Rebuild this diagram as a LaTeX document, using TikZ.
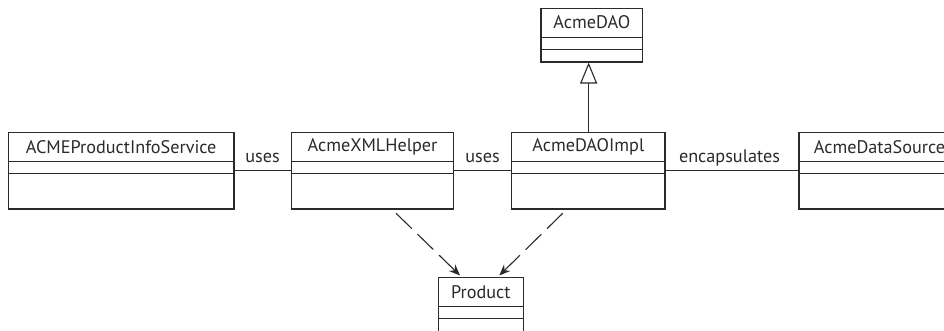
\documentclass[tikz,border=0pt]{standalone}
\usepackage{fontspec}
\setmainfont{PT Sans}
\usetikzlibrary{fit,calc,arrows.meta}
\definecolor{ink}{HTML}{2A2A2A}
\tikzset{
  clsbox/.style={draw=ink, line width=1.1pt, inner sep=0pt, rectangle},
  clsname/.style={text=ink, font=\fontsize{18.2}{21}\selectfont, inner sep=0pt},
  clsline/.style={draw=ink, line width=1.1pt},
  assoc/.style={draw=ink, line width=1.1pt},
  asslabel/.style={text=ink, font=\fontsize{18.2}{21}\selectfont, inner sep=0pt, anchor=base},
  inherit/.style={draw=ink, line width=1.1pt, -{Triangle[open, width=17pt, length=21pt, line width=1.1pt]}},
  depend/.style={draw=ink, line width=1.1pt, dash pattern=on 22pt off 8pt, -{Stealth[length=11pt, width=9pt]}},
}
\newcommand\umlclassbox[6]{%
  \node[clsbox, fit={(#2,#3)(#4,#5)}] (#1) {};
  \node[clsname] (#1-name) at ($(#1.north)+(0,14.6)$) {#6};
  \draw[clsline] ($(#1.north west)+(0,29.3)$) -- ($(#1.north east)+(0,29.3)$);
  \draw[clsline] ($(#1.north west)+(0,41.3)$) -- ($(#1.north east)+(0,41.3)$);
}
\begin{document}
\begin{tikzpicture}[x=1pt,y=-1pt]
\useasboundingbox (0,0) rectangle (944,330);
\clip (0,0) rectangle (944,330);
\umlclassbox{svc}{8.3}{132.7}{234}{209}{ACMEProductInfoService}
\umlclassbox{xml}{291.7}{132.7}{453.3}{209}{AcmeXMLHelper}
\umlclassbox{impl}{511.7}{132.7}{665}{209}{AcmeDAOImpl}
\umlclassbox{ds}{799}{132.7}{960}{209}{AcmeDataSource}
\umlclassbox{dao}{541}{8.3}{642.7}{62}{AcmeDAO}
\umlclassbox{prod}{438.3}{277.7}{523.3}{345}{Product}
% associations
\draw[assoc] ($(svc.north east)+(0,38)$) -- ($(xml.north west)+(0,38)$);
\draw[assoc] ($(xml.north east)+(0,38)$) -- ($(impl.north west)+(0,38)$);
\draw[assoc] ($(impl.north east)+(0,38)$) -- ($(ds.north west)+(0,38)$);
\node[asslabel] (l1) at (262.5,162.7) {uses};
\node[asslabel] (l2) at (482.5,162.7) {uses};
\node[asslabel] (l3) at (729.5,162.7) {encapsulates};
% generalization
\draw[inherit] ($(impl.north)+(0.3,0)$) -- ($(impl.north |- dao.south)+(0.3,0)$);
% dependencies
\draw[depend] ($(xml.south)+(23.5,3.7)$) -- ($(prod.north)+(-20.8,-1.7)$);
\draw[depend] ($(impl.south)+(-25.6,3.7)$) -- ($(prod.north)+(18.5,-1.7)$);
\end{tikzpicture}
\end{document}
